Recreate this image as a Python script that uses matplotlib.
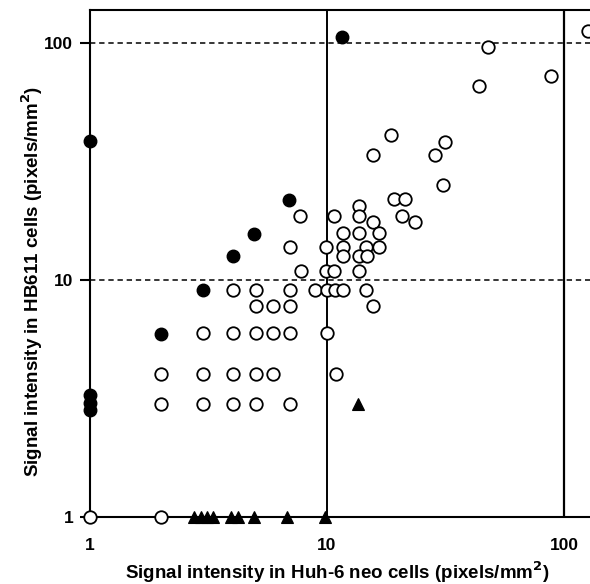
import numpy as np
import matplotlib
matplotlib.use('Agg')
import matplotlib.pyplot as plt

plt.rcParams['font.family'] = ['Liberation Sans', 'DejaVu Sans']
plt.rcParams['font.weight'] = 'bold'

# open circles (Huh-6 neo, HB611)
open_x = [1, 2,
          4, 5, 7, 8.9, 10.0, 10.8, 11.7, 14.6,
          5, 5.9, 7, 15.7,
          3, 4, 5, 5.9, 7, 10.0,
          2, 3, 4, 5, 5.9, 10.9,
          2, 3, 4, 5, 7,
          7.7, 10.7, 13.6, 13.6, 15.7, 19.2, 21.3, 20.7, 23.5, 30.9,
          11.7, 13.6, 16.6, 7.0, 9.9, 11.7, 14.6, 16.6,
          11.7, 13.6, 14.7, 7.8, 9.9, 10.7, 13.6,
          15.7, 18.6, 28.5, 31.5, 43.8, 47.9, 88.4, 126]
open_y = [1, 1,
          9.1, 9.1, 9.1, 9.1, 9.1, 9.1, 9.1, 9.1,
          7.8, 7.8, 7.8, 7.8,
          6, 6, 6, 6, 6, 6,
          4, 4, 4, 4, 4, 4,
          3, 3, 3, 3, 3,
          18.6, 18.6, 20.5, 18.6, 17.6, 22, 22, 18.6, 17.6, 25.2,
          15.8, 15.8, 15.8, 13.8, 13.8, 13.8, 13.8, 13.8,
          12.6, 12.6, 12.6, 10.9, 10.9, 10.9, 10.9,
          33.6, 40.9, 33.6, 38.2, 65.8, 96.2, 72.5, 112]

# filled circles
filled_x = [1, 1, 1, 1, 2, 3, 4, 4.9, 6.9, 11.6]
filled_y = [38.6, 3.27, 3.03, 2.83, 5.9, 9.1, 12.6, 15.6, 21.8, 106]

# filled triangles
tri_x = [2.75, 2.94, 3.12, 3.31, 3.93, 4.21, 4.93, 6.8, 9.8, 13.5]
tri_y = [1, 1, 1, 1, 1, 1, 1, 1, 1, 3.0]

fig = plt.figure(figsize=(5.9, 5.84), dpi=100)
ax = fig.add_axes([0.1525, 0.1147, 0.8475, 0.868])
ax.set_xscale('log')
ax.set_yscale('log')
ax.set_xlim(1, 128.8)
ax.set_ylim(1, 137.8)

ax.axvline(10, color='black', lw=1.4, zorder=1)
ax.axvline(100, color='black', lw=1.6, zorder=1)
ax.axhline(10, color='black', lw=1.1, ls=(0, (3.5, 2.5)), zorder=1)
ax.axhline(100, color='black', lw=1.1, ls=(0, (3.5, 2.5)), zorder=1)

ax.plot(open_x, open_y, 'o', ms=9, mfc='white', mec='black', mew=1.3,
        ls='none', clip_on=False, zorder=3)
ax.plot(filled_x, filled_y, 'o', ms=9, mfc='black', mec='black', mew=1.0,
        ls='none', clip_on=False, zorder=3)
ax.plot(tri_x, tri_y, '^', ms=8, mfc='black', mec='black', mew=0.8,
        ls='none', clip_on=False, zorder=3)

for s in ['left', 'top', 'bottom']:
    ax.spines[s].set_linewidth(1.5)
ax.spines['right'].set_visible(False)

ax.set_xticks([1, 10, 100])
ax.set_xticklabels(['1', '10', '100'])
ax.set_yticks([1, 10, 100])
ax.set_yticklabels(['1', '10', '100'])
ax.minorticks_off()
ax.tick_params(axis='x', length=0, pad=15, labelsize=12.5)
ax.tick_params(axis='y', length=7, width=1.5, pad=5, labelsize=12.5)

ax.set_xlabel('Signal intensity in Huh-6 neo cells (pixels/mm$^\\mathbf{2}$)',
              fontsize=13.5, fontweight='bold')
ax.set_ylabel('Signal intensity in HB611 cells (pixels/mm$^\\mathbf{2}$)',
              fontsize=13.5, fontweight='bold')
ax.xaxis.set_label_coords(0.494, -0.084)
ax.yaxis.set_label_coords(-0.089, 0.465)

fig.savefig('out.png', dpi=100)
